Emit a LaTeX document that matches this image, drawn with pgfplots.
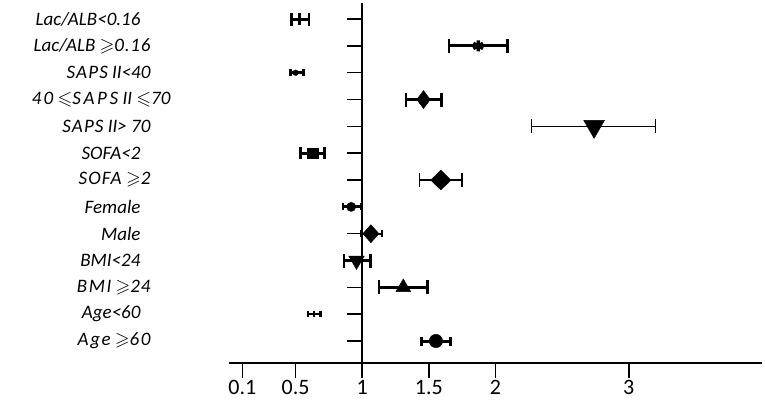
\documentclass[border=0pt]{standalone}
\usepackage{amssymb}
\usepackage{fontspec}
\setmainfont{Carlito}
\usepackage{pgfplots}
\pgfplotsset{compat=1.18}
\newcommand{\ls}[2]{{\addfontfeature{LetterSpace=#1}#2}}
\begin{document}
\begin{tikzpicture}
\begin{axis}[
  scale only axis, width=533pt, height=360pt,
  xmin=0, xmax=4, ymin=0.18, ymax=13.6,
  axis x line=bottom, axis y line=left,
  x axis line style={-, line width=1.8pt},
  y axis line style={draw=none},
  xtick={0.1,0.5,1,1.5,2,3},
  xticklabels={0.1,0.5,1,1.5,2,3},
  tick align=outside, major tick length=15pt,
  x tick style={line width=1.5pt, black},
  y tick style={draw=none},
  ytick={1,...,13},
  yticklabels={{\ls{8}{Age} $\geqslant$\ls{8}{60}\kern-10pt},{Age<60},{\ls{8}{BMI} $\geqslant$\ls{4}{24}\kern-10pt},{BMI<24},{Male},{Female},{\ls{6}{SOFA} $\geqslant$2\kern-10pt},{SOFA<2},{\ls{6}{SAPS} \textit{II}> 70\kern-10pt},{\ls{12}{40} $\leqslant$\ls{14}{SAPS} \textit{II} $\leqslant$70\kern-30pt},{\ls{6}{SAPS} \textit{II}<40\kern-10pt},{Lac/ALB $\geqslant$\ls{4}{0.16}\kern-10pt},{Lac/ALB<0.16}},
  xticklabel style={font=\fontsize{22}{22}\selectfont, inner sep=1pt, yshift=-1pt},
  yticklabel style={font=\fontsize{19}{20}\selectfont\itshape, anchor=east, xshift=-70pt},
  clip=false,
  error bars/x dir=both, error bars/x explicit, error bars/error mark=|,
]
\coordinate (BL) at (rel axis cs:0,0);
\draw[line width=1.8pt] (axis cs:1,0.18) -- (axis cs:1,13.6);
\pgfplotsinvokeforeach{1,...,13}{\draw[line width=1.5pt] (axis cs:1,#1) -- ([xshift=-15pt]axis cs:1,#1);}
% Lac/ALB<0.16
\addplot[black, only marks, mark=|, mark size=6pt, mark options={line width=2.5pt},
  error bars/error bar style={line width=3pt}, error bars/error mark options={black, line width=2.5pt, mark size=6.5pt}]
  coordinates {(0.53,13) -= (0.06,0) += (0.07,0)};
% Lac/ALB>=0.16
\addplot[black, only marks, mark=asterisk, mark size=5.5pt, mark options={line width=3.2pt},
  error bars/error bar style={line width=3pt}, error bars/error mark options={black, line width=2.5pt, mark size=7pt}]
  coordinates {(1.87,12) -= (0.22,0) += (0.22,0)};
% SAPS<40
\addplot[black, only marks, mark=*, mark size=2.8pt,
  error bars/error bar style={line width=3pt}, error bars/error mark options={black, line width=2.5pt, mark size=3.5pt}]
  coordinates {(0.50,11) -= (0.04,0) += (0.06,0)};
% 40-70
\addplot[black, only marks, mark=diamond*, mark size=9pt, mark options={xscale=1.0},
  error bars/error bar style={line width=3pt}, error bars/error mark options={black, line width=2.5pt, mark size=7pt}]
  coordinates {(1.46,10) -= (0.13,0) += (0.135,0)};
% >70
\addplot[black, only marks, mark=triangle*, mark size=12pt, mark options={rotate=180},
  error bars/error bar style={line width=1.8pt}, error bars/error mark options={black, line width=1.6pt, mark size=7pt}]
  coordinates {(2.74,9) -= (0.47,0) += (0.46,0)};
% SOFA<2
\addplot[black, only marks, mark=square*, mark size=5.3pt,
  error bars/error bar style={line width=3pt}, error bars/error mark options={black, line width=2.5pt, mark size=6pt}]
  coordinates {(0.63,8) -= (0.094,0) += (0.086,0)};
% SOFA>=2
\addplot[black, only marks, mark=diamond*, mark size=10pt, mark options={xscale=1.35},
  error bars/error bar style={line width=1.8pt}, error bars/error mark options={black, line width=1.6pt, mark size=7pt}]
  coordinates {(1.59,7) -= (0.16,0) += (0.16,0)};
% Female
\addplot[black, only marks, mark=*, mark size=4.6pt,
  error bars/error bar style={line width=3pt}, error bars/error mark options={black, line width=2.5pt, mark size=3.5pt}]
  coordinates {(0.917,6) -= (0.06,0) += (0.075,0)};
% Male
\addplot[black, only marks, mark=diamond*, mark size=9pt, mark options={xscale=1.2},
  error bars/error bar style={line width=1.8pt}, error bars/error mark options={black, line width=1.6pt, mark size=3.5pt}]
  coordinates {(1.065,5) -= (0.075,0) += (0.085,0)};
% BMI<24
\addplot[black, only marks, mark=triangle*, mark size=9pt, mark options={rotate=180},
  error bars/error bar style={line width=3pt}, error bars/error mark options={black, line width=2.5pt, mark size=7pt}]
  coordinates {(0.957,4) -= (0.095,0) += (0.105,0)};
% BMI>=24
\addplot[black, only marks, mark=triangle*, mark size=8.5pt,
  error bars/error bar style={line width=3pt}, error bars/error mark options={black, line width=2.5pt, mark size=7pt}]
  coordinates {(1.308,3) -= (0.183,0) += (0.181,0)};
% Age<60
\addplot[black, only marks, mark=|, mark size=3pt, mark options={line width=2.2pt},
  error bars/error bar style={line width=2.5pt}, error bars/error mark options={black, line width=2.2pt, mark size=3.2pt}]
  coordinates {(0.636,2) -= (0.045,0) += (0.05,0)};
% Age>=60
\addplot[black, only marks, mark=*, mark size=6.7pt,
  error bars/error bar style={line width=3pt}, error bars/error mark options={black, line width=2.5pt, mark size=4.5pt}]
  coordinates {(1.553,1) -= (0.109,0) += (0.111,0)};
\end{axis}
\pgfresetboundingbox
\path (BL) ++(-229pt,-37pt) rectangle ++(765pt,400pt);
\end{tikzpicture}
\end{document}
